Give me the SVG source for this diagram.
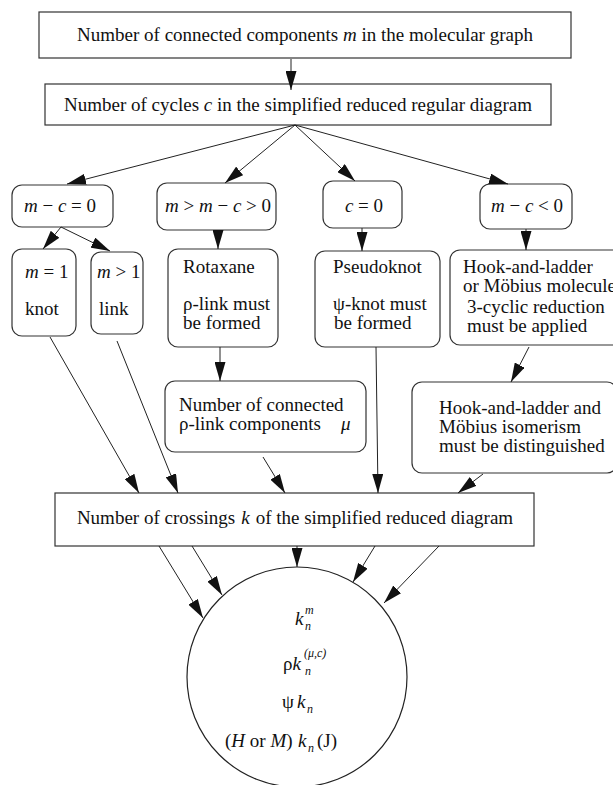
<svg xmlns="http://www.w3.org/2000/svg" width="613" height="785" viewBox="0 0 613 785">
<style>
  text { font-family: "Liberation Serif", "Times New Roman", serif; font-size: 19px; fill: #111; }
  .i { font-style: italic; }
  .s { font-size: 12px; font-style: italic; }
  .box { fill: #fff; stroke: #333; stroke-width: 1.2; }
  .rbox { fill: #fff; stroke: #333; stroke-width: 1.2; }
  .c { text-anchor: middle; }
  .ln { stroke: #222; stroke-width: 1; fill: none; marker-end: url(#ah); }
</style>
<defs>
  <marker id="ah" markerUnits="userSpaceOnUse" viewBox="0 0 19 11" refX="19" refY="5.5" markerWidth="19" markerHeight="11" orient="auto">
    <path d="M0,0 L19,5.5 L0,11 z" fill="#111"/>
  </marker>
</defs>
<rect width="613" height="785" fill="#fff"/>

<g id="n-components">
  <rect class="box" x="39" y="12" width="532" height="46"/>
  <text class="c" x="305" y="41">Number of connected components <tspan class="i">m</tspan> in the molecular graph</text>
</g>
<g id="n-cycles">
  <rect class="box" x="45" y="84" width="506" height="41"/>
  <text class="c" x="298" y="111">Number of cycles <tspan class="i">c</tspan> in the simplified reduced regular diagram</text>
</g>

<g id="n-mc0">
  <rect class="rbox" x="12" y="185" width="101" height="42" rx="10"/>
  <text class="c" x="60" y="212"><tspan class="i">m</tspan> − <tspan class="i">c</tspan> = 0</text>
</g>
<g id="n-mgt">
  <rect class="rbox" x="157" y="183" width="119" height="47" rx="10"/>
  <text class="c" x="218" y="212"><tspan class="i">m</tspan> &gt; <tspan class="i">m</tspan> − <tspan class="i">c</tspan> &gt; 0</text>
</g>
<g id="n-c0">
  <rect class="rbox" x="323" y="181" width="79" height="47" rx="10"/>
  <text class="c" x="364" y="212"><tspan class="i">c</tspan> = 0</text>
</g>
<g id="n-mclt">
  <rect class="rbox" x="480" y="184" width="92" height="45" rx="10"/>
  <text class="c" x="527" y="212"><tspan class="i">m</tspan> − <tspan class="i">c</tspan> &lt; 0</text>
</g>

<g id="n-knot">
  <rect class="rbox" x="12" y="249" width="64" height="87" rx="10"/>
  <text x="25" y="278"><tspan class="i">m</tspan> = 1</text>
  <text x="25" y="315">knot</text>
</g>
<g id="n-link">
  <rect class="rbox" x="91" y="252" width="52" height="82" rx="10"/>
  <text x="97" y="278"><tspan class="i">m</tspan> &gt; 1</text>
  <text x="99" y="315">link</text>
</g>
<g id="n-rotaxane">
  <rect class="rbox" x="168" y="249" width="110" height="98" rx="10"/>
  <text x="183" y="273">Rotaxane</text>
  <text x="183" y="310">ρ-link must</text>
  <text x="183" y="329">be formed</text>
</g>
<g id="n-pseudoknot">
  <rect class="rbox" x="315" y="251" width="125" height="96" rx="10"/>
  <text x="333" y="273">Pseudoknot</text>
  <text x="333" y="310">ψ-knot must</text>
  <text x="334" y="329">be formed</text>
</g>
<g id="n-hook">
  <rect class="rbox" x="450" y="250" width="175" height="95" rx="10"/>
  <text x="463" y="273">Hook-and-ladder</text>
  <text x="463" y="292">or Möbius molecule</text>
  <text x="467" y="313">3-cyclic reduction</text>
  <text x="467" y="332">must be applied</text>
</g>
<g id="n-rholink">
  <rect class="rbox" x="165" y="381" width="201" height="71" rx="10"/>
  <text x="179" y="411">Number of connected</text>
  <text x="179" y="430">ρ-link components</text>
  <text class="i" x="341" y="430">μ</text>
</g>
<g id="n-isomerism">
  <rect class="rbox" x="412" y="382" width="205" height="91" rx="10"/>
  <text x="439" y="414">Hook-and-ladder and</text>
  <text x="439" y="433">Möbius isomerism</text>
  <text x="439" y="452">must be distinguished</text>
</g>

<g id="n-crossings">
  <rect class="box" x="55" y="493" width="479" height="53"/>
  <text class="c" x="295" y="524">Number of crossings<tspan class="i" dx="6">k</tspan><tspan dx="6">of the simplified reduced diagram</tspan></text>
</g>

<g id="n-result">
  <circle cx="297" cy="677" r="110" fill="#fff" stroke="#222" stroke-width="1.2"/>
  <text class="i" x="295" y="625">k</text>
  <text class="s" x="305" y="614">m</text>
  <text class="s" x="305" y="630">n</text>
  <text x="283" y="670">ρ<tspan class="i">k</tspan></text>
  <text class="s" x="304" y="657">(μ,c)</text>
  <text class="s" x="305" y="675">n</text>
  <text x="282" y="708">ψ</text>
  <text class="i" x="297" y="708">k</text>
  <text class="s" x="307" y="713">n</text>
  <text x="225" y="747">(<tspan class="i">H</tspan> or <tspan class="i">M</tspan>)</text>
  <text class="i" x="298" y="747">k</text>
  <text class="s" x="308" y="752">n</text>
  <text x="317" y="747">(J)</text>
</g>

<g id="connectors">
  <line class="ln" x1="291" y1="59" x2="291" y2="90"/>
  <line class="ln" x1="295" y1="125" x2="67" y2="184"/>
  <line class="ln" x1="295" y1="125" x2="225" y2="183"/>
  <line class="ln" x1="295" y1="125" x2="355" y2="181"/>
  <line class="ln" x1="295" y1="125" x2="508" y2="184"/>
  <line class="ln" x1="61" y1="227" x2="43" y2="249"/>
  <line class="ln" x1="61" y1="227" x2="110" y2="251"/>
  <line class="ln" x1="218" y1="230" x2="218" y2="249"/>
  <line class="ln" x1="362" y1="228" x2="362" y2="251"/>
  <line class="ln" x1="526" y1="229" x2="526" y2="250"/>
  <line class="ln" x1="220" y1="347" x2="220" y2="381"/>
  <line class="ln" x1="529" y1="347" x2="511" y2="382"/>
  <line class="ln" x1="50" y1="337" x2="139" y2="493"/>
  <line class="ln" x1="117" y1="341" x2="178" y2="493"/>
  <line class="ln" x1="263" y1="457" x2="285" y2="493"/>
  <line class="ln" x1="376" y1="347" x2="378" y2="493"/>
  <line class="ln" x1="483" y1="474" x2="458" y2="493"/>
  <line class="ln" x1="159" y1="546" x2="203" y2="618"/>
  <line class="ln" x1="192" y1="546" x2="222" y2="595"/>
  <line class="ln" x1="297" y1="546" x2="297" y2="567"/>
  <line class="ln" x1="375" y1="546" x2="353" y2="582"/>
  <line class="ln" x1="439" y1="546" x2="384" y2="603"/>
</g>
</svg>
